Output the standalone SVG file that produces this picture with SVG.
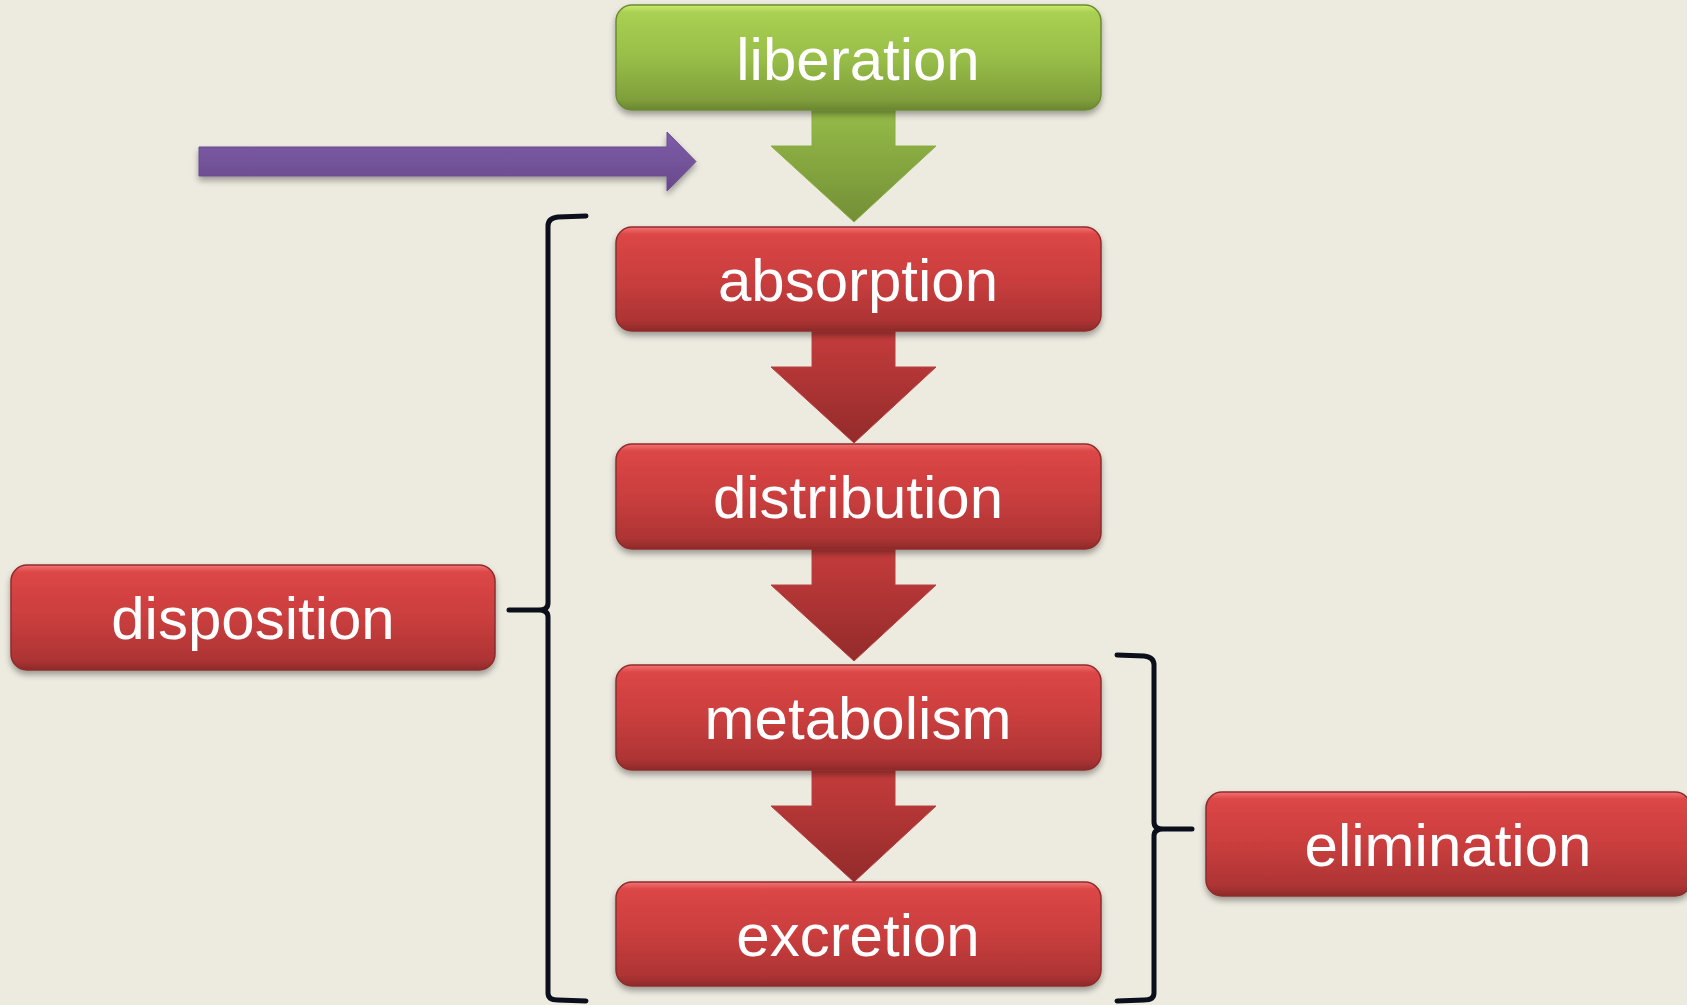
<svg xmlns="http://www.w3.org/2000/svg" width="1687" height="1005" viewBox="0 0 1687 1005">
  <defs>
    <linearGradient id="gRed" x1="0" y1="0" x2="0" y2="1">
      <stop offset="0" stop-color="#F47474"/>
      <stop offset="0.07" stop-color="#DC4646"/>
      <stop offset="0.5" stop-color="#CA3E3E"/>
      <stop offset="0.9" stop-color="#AE3434"/>
      <stop offset="1" stop-color="#8E2A2A"/>
    </linearGradient>
    <linearGradient id="gGreen" x1="0" y1="0" x2="0" y2="1">
      <stop offset="0" stop-color="#CBEC6E"/>
      <stop offset="0.07" stop-color="#A9D052"/>
      <stop offset="0.5" stop-color="#98BE48"/>
      <stop offset="0.9" stop-color="#809F3B"/>
      <stop offset="1" stop-color="#6A8630"/>
    </linearGradient>
    <linearGradient id="gRedArrow" x1="0" y1="0" x2="0" y2="1">
      <stop offset="0" stop-color="#C63C3C"/>
      <stop offset="1" stop-color="#932B2B"/>
    </linearGradient>
    <linearGradient id="gGreenArrow" x1="0" y1="0" x2="0" y2="1">
      <stop offset="0" stop-color="#96BB49"/>
      <stop offset="1" stop-color="#738F36"/>
    </linearGradient>
    <linearGradient id="gPurple" x1="0" y1="0" x2="0" y2="1">
      <stop offset="0" stop-color="#7E5CA8"/>
      <stop offset="1" stop-color="#684A8C"/>
    </linearGradient>
    <filter id="shadow" x="-10%" y="-20%" width="120%" height="150%">
      <feGaussianBlur in="SourceAlpha" stdDeviation="3"/>
      <feOffset dx="0" dy="4" result="b"/>
      <feComponentTransfer><feFuncA type="linear" slope="0.35"/></feComponentTransfer>
      <feMerge><feMergeNode/><feMergeNode in="SourceGraphic"/></feMerge>
    </filter>
  </defs>
  <style>
    .box { stroke-width: 1.5; }
    .red { fill: url(#gRed); stroke: #8E2C2C; }
    .green { fill: url(#gGreen); stroke: #6C8A32; }
    .lbl { font-family: "Liberation Sans", Arial, sans-serif; font-size: 60px; fill: #FFFFFF; text-anchor: middle; }
    .brace { fill: none; stroke: #0B0F1C; stroke-width: 5; stroke-linecap: round; stroke-linejoin: round; }
    .arrR { fill: url(#gRedArrow); stroke: #B84040; stroke-width: 1; }
    .arrG { fill: url(#gGreenArrow); stroke: #8AAE44; stroke-width: 1; }
  </style>
  <rect x="0" y="0" width="1687" height="1005" fill="#EDEBE0"/>

  <g id="connectors">
    <polygon id="arrow-purple" points="199,147 667,147 667,132 696,161.5 667,191 667,176 199,176" fill="url(#gPurple)" stroke="#6A4D8E" stroke-width="1" filter="url(#shadow)"/>
    <polygon id="arrow-lib-abs" class="arrG" points="812,110 895,110 895,146 936,146 854,222 771,146 812,146"/>
    <polygon id="arrow-abs-dis" class="arrR" points="812,331 895,331 895,367 936,367 854,443 771,367 812,367"/>
    <polygon id="arrow-dis-met" class="arrR" points="812,549 895,549 895,585 936,585 854,661 771,585 812,585"/>
    <polygon id="arrow-met-exc" class="arrR" points="812,770 895,770 895,806 936,806 854,882 771,806 812,806"/>
    <path id="brace-disposition" class="brace" d="M586,216 L558,217 Q548,218 548,226 V603 Q548,610 539,610 L509,610 M539,610 Q548,610 548,617 V993 Q548,1000 558,1000 L586,1001"/>
    <path id="brace-elimination" class="brace" d="M1117,655 L1144,656 Q1154,657 1154,665 V822 Q1154,829 1163,829 L1192,829 M1163,829 Q1154,829 1154,836 V993 Q1154,1000 1144,1000 L1117,1001"/>
  </g>

  <g id="node-liberation" filter="url(#shadow)">
    <rect class="box green" x="616" y="5" width="485" height="105" rx="16"/>
    <text class="lbl" x="858" y="80">liberation</text>
  </g>
  <g id="node-absorption" filter="url(#shadow)">
    <rect class="box red" x="616" y="227" width="485" height="104" rx="16"/>
    <text class="lbl" x="858" y="301">absorption</text>
  </g>
  <g id="node-distribution" filter="url(#shadow)">
    <rect class="box red" x="616" y="444" width="485" height="105" rx="16"/>
    <text class="lbl" x="858" y="518">distribution</text>
  </g>
  <g id="node-metabolism" filter="url(#shadow)">
    <rect class="box red" x="616" y="665" width="485" height="105" rx="16"/>
    <text class="lbl" x="858" y="739">metabolism</text>
  </g>
  <g id="node-excretion" filter="url(#shadow)">
    <rect class="box red" x="616" y="882" width="485" height="104" rx="16"/>
    <text class="lbl" x="858" y="956">excretion</text>
  </g>
  <g id="node-disposition" filter="url(#shadow)">
    <rect class="box red" x="11" y="565" width="484" height="105" rx="16"/>
    <text class="lbl" x="253" y="639">disposition</text>
  </g>
  <g id="node-elimination" filter="url(#shadow)">
    <rect class="box red" x="1206" y="792" width="485" height="104" rx="16"/>
    <text class="lbl" x="1448" y="866">elimination</text>
  </g>
</svg>
